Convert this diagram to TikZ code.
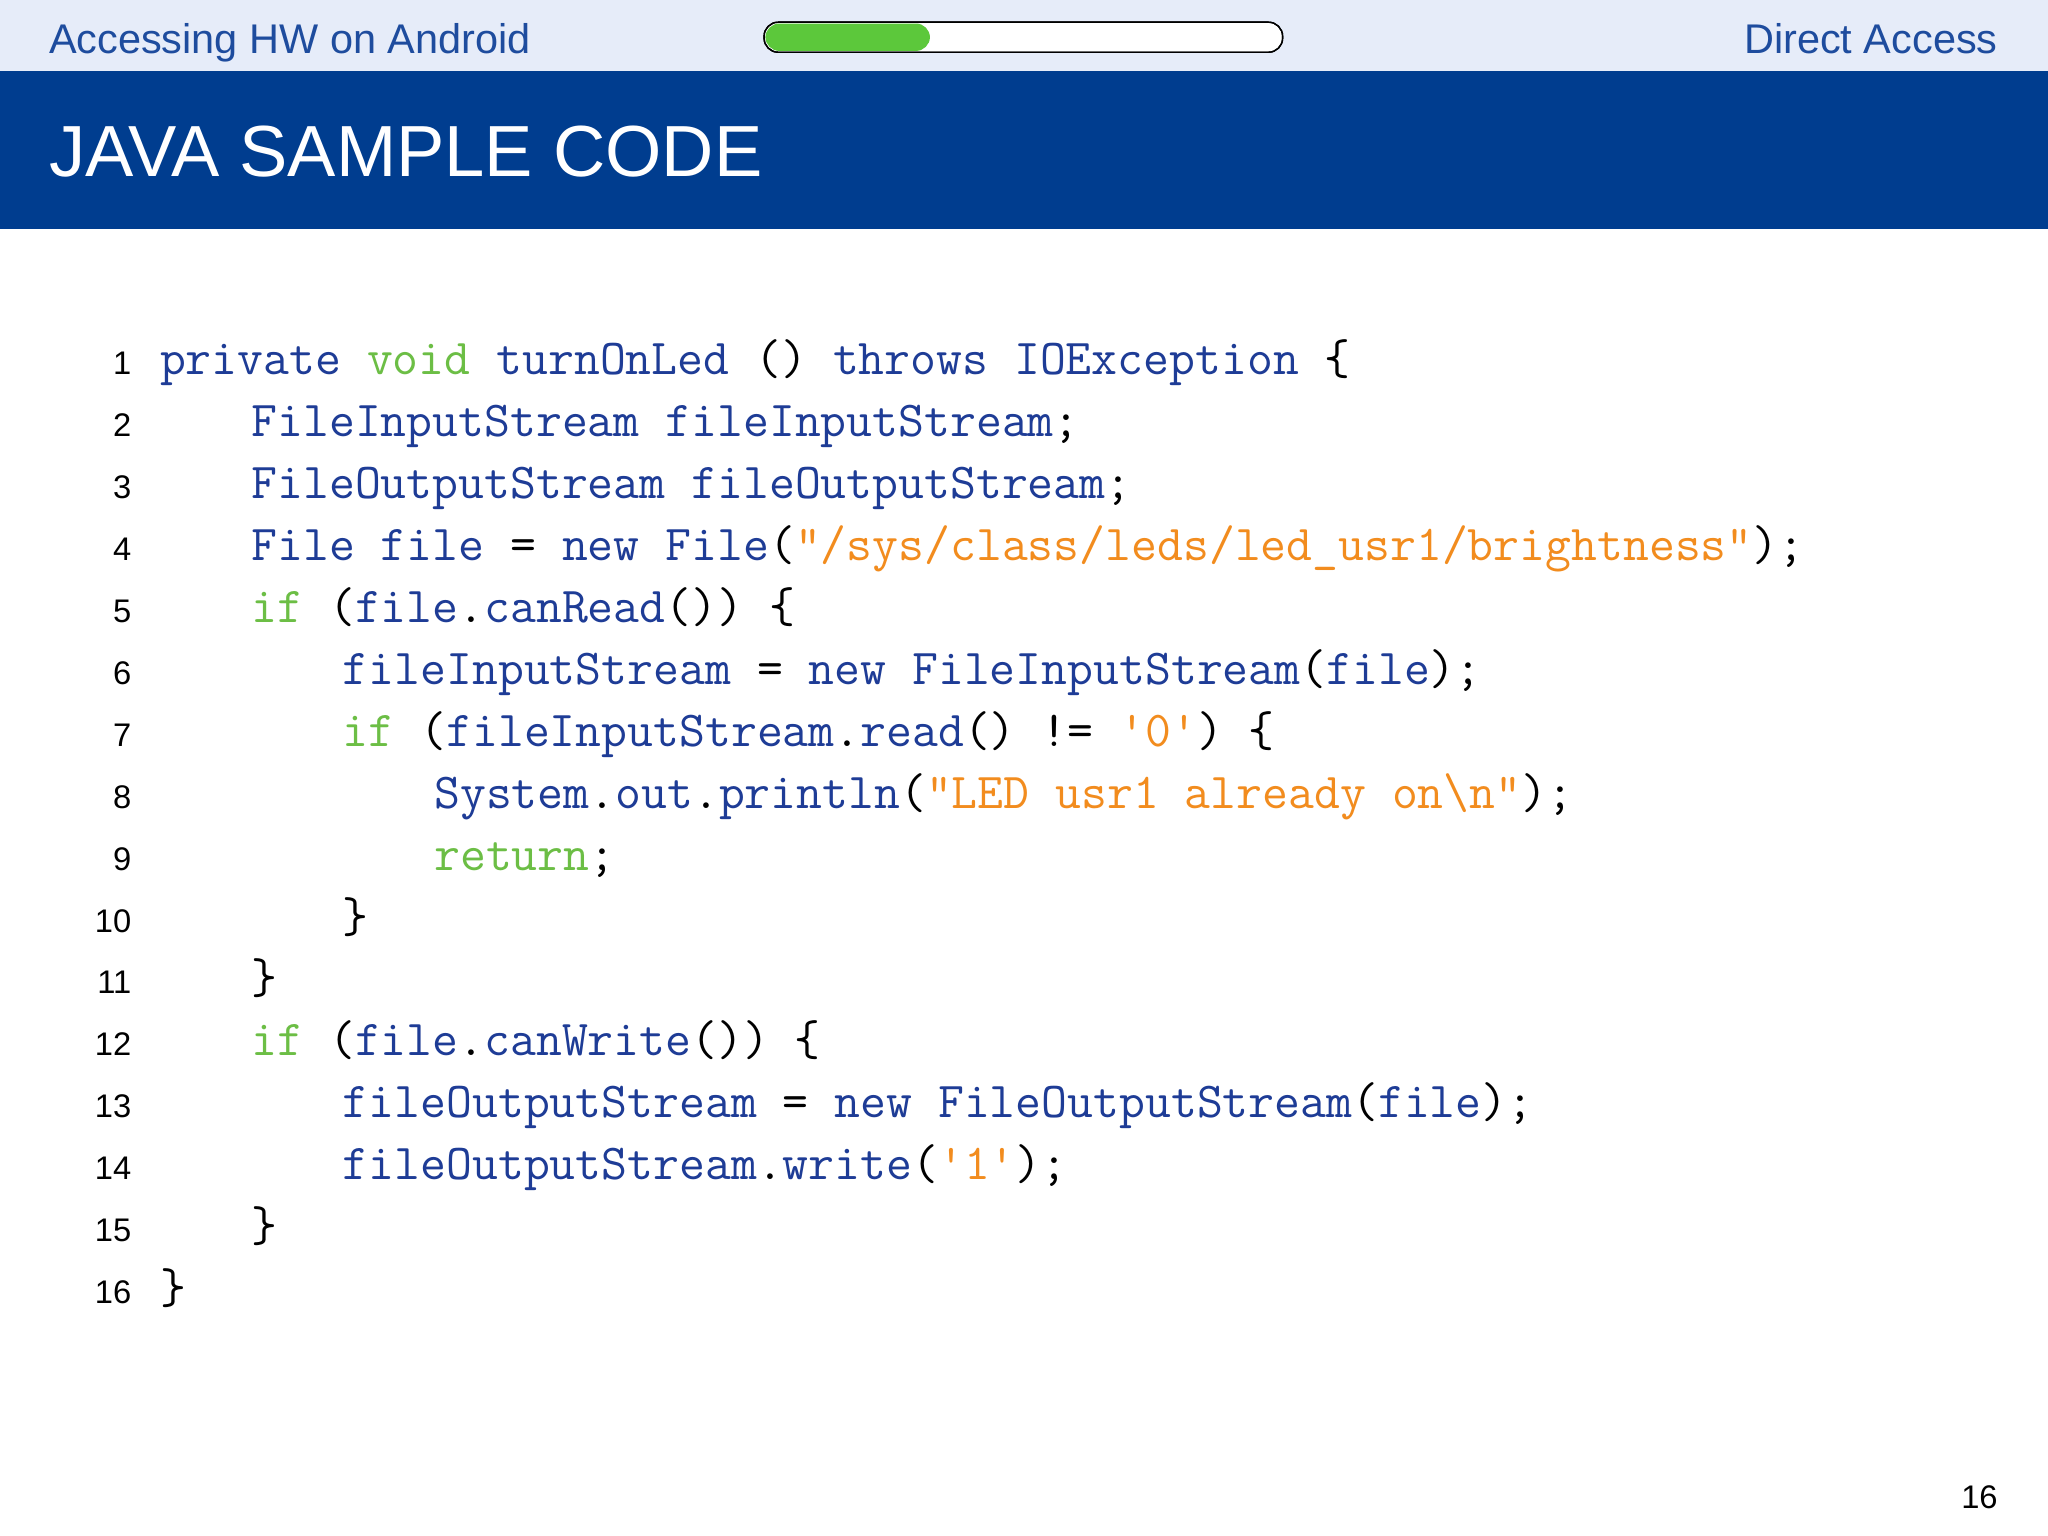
\documentclass[tikz,border=0pt]{standalone}
\usepackage{fontspec}
\setmainfont{Liberation Sans}
\setmonofont{Latin Modern Mono}
\definecolor{cb}{HTML}{1E3C96}
\definecolor{cg}{HTML}{6CBE45}
\definecolor{co}{HTML}{F28C1E}
\definecolor{band}{HTML}{003D8F}
\definecolor{topbar}{HTML}{E6ECF9}
\definecolor{hdr}{HTML}{1E4C9E}
\newcommand\Bk[1]{\textcolor{cb}{#1}}
\newcommand\Gk[1]{\textcolor{cg}{#1}}
\newcommand\Ok[1]{\textcolor{co}{#1}}
\newcommand\q{\textquotedbl}
\newcommand\sq{\textquotesingle}
\tikzset{code/.style={anchor=base west,inner sep=0,font=\fontsize{14.3}{16}\ttfamily},
lnum/.style={anchor=base east,inner sep=0,font=\fontsize{9.3}{11}\selectfont}}
\begin{document}
\begin{tikzpicture}[x=0.01306cm,y=-0.01306cm]
\useasboundingbox (0,0) rectangle (1568,1176);
\fill[white] (0,0) rectangle (1568,1176);
\fill[topbar] (0,0) rectangle (1568,54);
\fill[band] (0,54) rectangle (1568,175);
\node[anchor=base west,inner sep=0,text=hdr,font=\fontsize{11.8}{13}\selectfont] (h1) at (37,41) {Accessing HW on Android};
\node[anchor=base east,inner sep=0,text=hdr,font=\fontsize{11.8}{13}\selectfont] (h2) at (1530,41) {Direct Access};
\draw[fill=white,rounded corners=4] (585,17) rectangle (982,40);
\fill[cg!85!green,rounded corners=4] (586,18) rectangle (712,39);
\draw[rounded corners=4] (585,17) rectangle (982,40);
\node[anchor=base west,inner sep=0,text=white,font=\fontsize{20.6}{24}\selectfont] (t) at (37,135) {JAVA SAMPLE CODE};
\node[anchor=base east,inner sep=0,font=\fontsize{9.3}{11}\selectfont] (pg) at (1530,1155) {16};
\foreach \i in {1,...,16}{\node[lnum] (n\i) at (101,{278+(\i-1)*47.4+9}) {\i};}
\def\L#1#2#3{\node[code] (c#1) at ({122+70*#2},{278+(#1-1)*47.4+9}) {#3};}
\L{1}{0}{\Bk{private} \Gk{void} \Bk{turnOnLed} () \Bk{throws} \Bk{IOException} \{}
\L{2}{1}{\Bk{FileInputStream} \Bk{fileInputStream};}
\L{3}{1}{\Bk{FileOutputStream} \Bk{fileOutputStream};}
\L{4}{1}{\Bk{File} \Bk{file} = \Bk{new} \Bk{File}(\Ok{\q/sys/class/leds/led\_usr1/brightness\q});}
\L{5}{1}{\Gk{if} (\Bk{file}.\Bk{canRead}()) \{}
\L{6}{2}{\Bk{fileInputStream} = \Bk{new} \Bk{FileInputStream}(\Bk{file});}
\L{7}{2}{\Gk{if} (\Bk{fileInputStream}.\Bk{read}() != \Ok{\sq0\sq}) \{}
\L{8}{3}{\Bk{System}.\Bk{out}.\Bk{println}(\Ok{\q LED usr1 already on\textbackslash n\q});}
\L{9}{3}{\Gk{return};}
\L{10}{2}{\}}
\L{11}{1}{\}}
\L{12}{1}{\Gk{if} (\Bk{file}.\Bk{canWrite}()) \{}
\L{13}{2}{\Bk{fileOutputStream} = \Bk{new} \Bk{FileOutputStream}(\Bk{file});}
\L{14}{2}{\Bk{fileOutputStream}.\Bk{write}(\Ok{\sq1\sq});}
\L{15}{1}{\}}
\L{16}{0}{\}}
\end{tikzpicture}
\end{document}
